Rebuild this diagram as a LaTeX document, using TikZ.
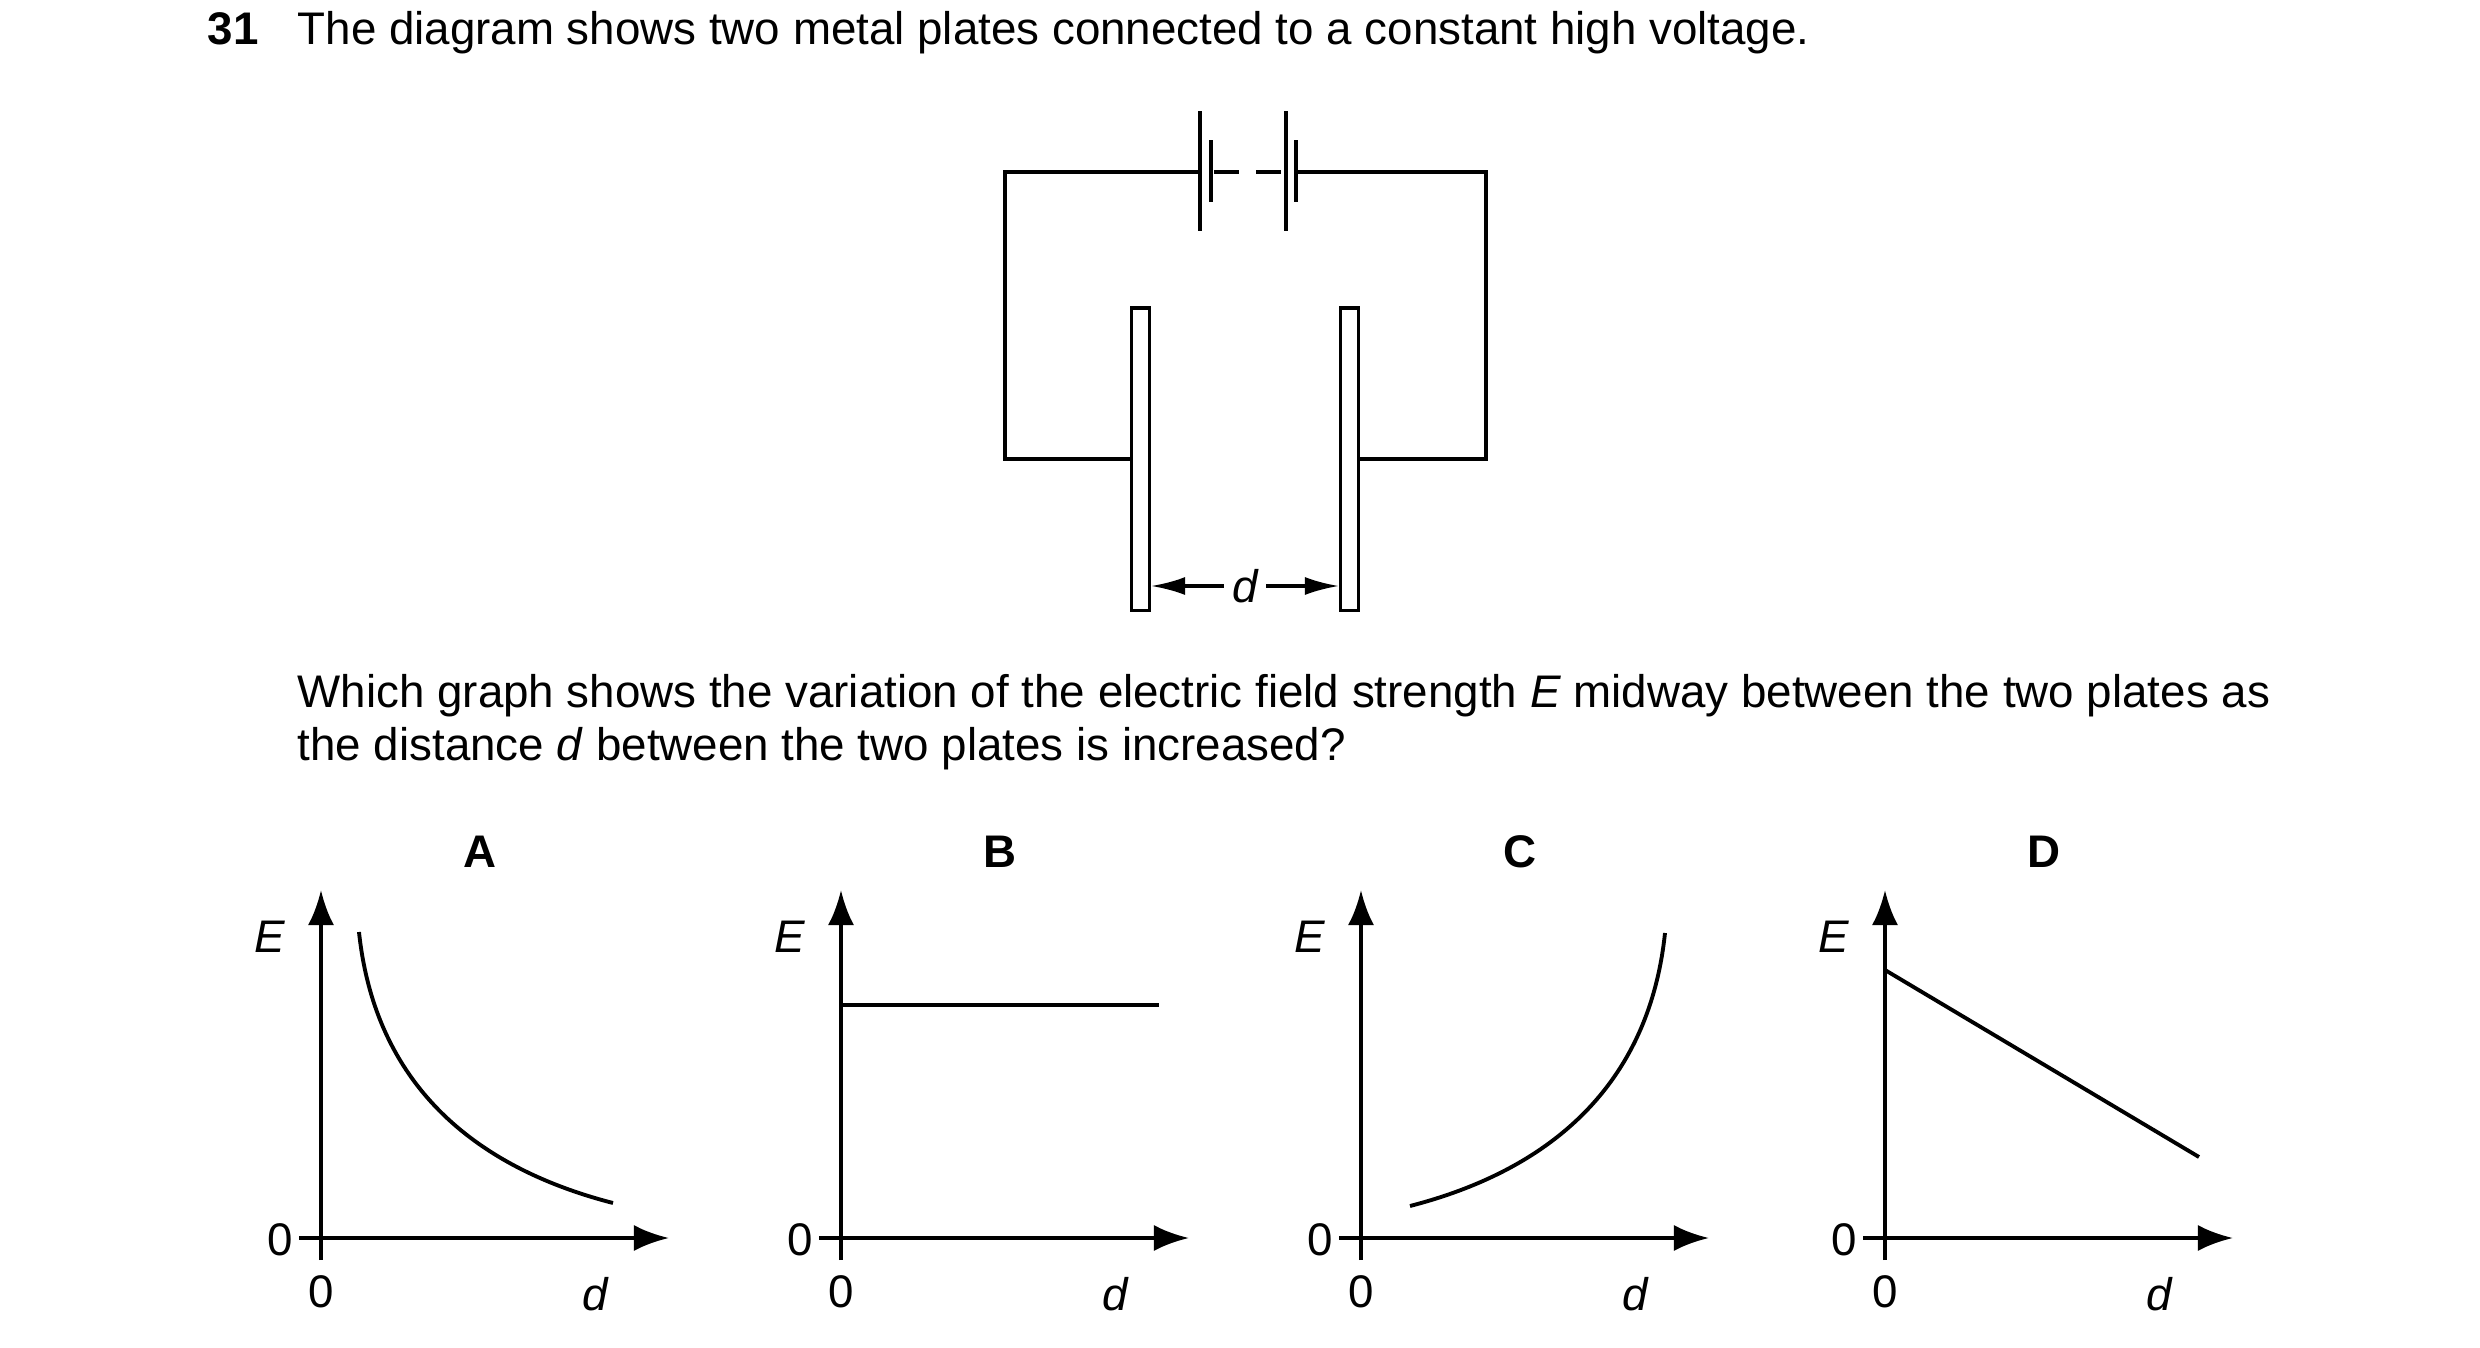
\documentclass[tikz,border=0pt]{standalone}
\usepackage{fontspec}
\setmainfont{Liberation Sans}
\usetikzlibrary{arrows.meta,positioning}

\begin{document}
\begin{tikzpicture}[
    x=0.01cm,y=-0.01cm,
    wire/.style={line width=0.9pt},
    plate/.style={rectangle,draw,line width=0.9pt,minimum width=0.18cm,minimum height=3.02cm,inner sep=0pt},
    axis/.style={line width=1.1pt,-{Latex[length=3.5mm,width=2.6mm]}},
    curve/.style={line width=1.1pt},
    txt/.style={font=\fontsize{13}{15}\selectfont,inner sep=0pt},
    lbl/.style={font=\fontsize{13}{15}\selectfont,inner sep=0pt}
]
\useasboundingbox (0,0) rectangle (2480,1348);

% Question text
\node[txt,anchor=base west] (num) at (207,44) {\bfseries 31};
\node[txt,anchor=base west] (q1) at (297,44) {The diagram shows two metal plates connected to a constant high voltage.};
\node[txt,anchor=base west] (q2) at (297,707) {Which graph shows the variation of the electric field strength \textit{E} midway between the two plates as};
\node[txt,anchor=base west] (q3) at (297,760) {the distance \textit{d} between the two plates is increased?};

% Circuit
\node[plate] (pl) at (1140.5,459) {};
\node[plate] (pr) at (1349.5,459) {};
\draw[wire] (pl.west |- 0,459) -| (1005,172) -- (1200,172);
\draw[wire] (pr.east |- 0,459) -| (1486,172) -- (1296,172);
\draw[wire] (1200,111) -- (1200,231);
\draw[wire] (1211,140) -- (1211,202);
\draw[wire] (1286,111) -- (1286,231);
\draw[wire] (1296,140) -- (1296,202);
\draw[wire,dash pattern=on 7pt off 5pt] (1214,172) -- (1284,172);
\node[lbl,font=\fontsize{13}{15}\selectfont\itshape] (dl) at (1245,586) {d};
\draw[wire,-{Latex[length=3.4mm,width=1.8mm]}] (dl.west) ++(-8,0) -- (pl.east |- dl);
\draw[wire,-{Latex[length=3.4mm,width=1.8mm]}] (dl.east) ++(8,0) -- (pr.west |- dl);

% Graph axes
\foreach \g/\ox in {A/0,B/520,C/1040,D/1564} {
    \begin{scope}[xshift=\ox*0.01cm]
    \draw[axis] (321,1260) -- (321,890);
    \draw[axis] (299,1238) -- (669,1238);
    \node[lbl,font=\fontsize{13}{15}\selectfont\itshape] (E\g) at (270,937) {E};
    \node[lbl] (zy\g) at (280,1240) {0};
    \node[lbl] (zx\g) at (321,1292) {0};
    \node[lbl,font=\fontsize{13}{15}\selectfont\itshape] (d\g) at (595,1294) {d};
    \node[lbl,font=\fontsize{13}{15}\selectfont\bfseries] (t\g) at (480,852) {\g};
    \end{scope}
}

% Graph curves
\draw[curve] (359,932) .. controls (374,1074) and (462,1164) .. (613,1203);
\draw[curve] (841,1005) -- (1159,1005);
\draw[curve] (1410,1206) .. controls (1561,1167) and (1650,1076) .. (1665,933);
\draw[curve] (1885,970) -- (2199,1157);

\end{tikzpicture}
\end{document}
